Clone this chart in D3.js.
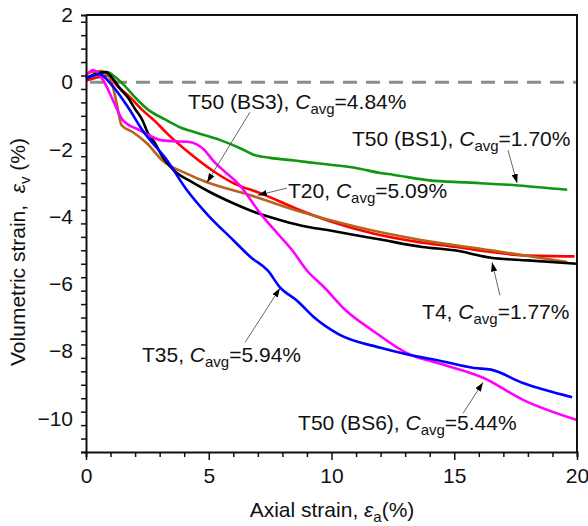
<!DOCTYPE html>
<html>
<head>
<meta charset="utf-8">
<script src="https://cdn.jsdelivr.net/npm/d3@7"></script>
<style>
  body { margin: 0; background: #fff; }
  svg text { font-family: Arial, "Liberation Sans", sans-serif; fill: #111; }
</style>
</head>
<body>
<svg id="chart" width="588" height="526"></svg>
<script>
// axial strain (%) vs volumetric strain (%)
var t50bs1 = [[0,0.12],[0.4,0.22],[0.85,0.3],[1.2,0.15],[1.5,-0.05],[2,-0.45],[2.5,-0.8],[3.2,-1.1],[3.8,-1.33],[4.5,-1.5],[5.5,-1.73],[6.3,-1.97],[6.8,-2.15],[7.5,-2.25],[8.5,-2.33],[9.5,-2.42],[11,-2.55],[12,-2.7],[12.5,-2.75],[14,-2.92],[15.5,-2.98],[17.6,-3.07],[19.6,-3.2]];
var t4 = [[0,0.12],[0.4,0.25],[0.8,0.3],[1.1,0.1],[1.4,-0.2],[1.7,-0.45],[2.0,-0.8],[2.3,-1.13],[2.5,-1.48],[2.8,-1.8],[3.1,-2.2],[3.7,-2.7],[4.2,-2.92],[5,-3.25],[6,-3.6],[7,-3.9],[8,-4.12],[9,-4.3],[10,-4.42],[11,-4.55],[12,-4.68],[13.7,-4.9],[15,-5.0],[16.5,-5.22],[18,-5.3],[20,-5.4]];
var t20 = [[0,0.05],[0.5,0.15],[0.9,0.2],[1.25,-0.09],[1.8,-0.45],[2.3,-0.83],[2.8,-1.15],[3.3,-1.52],[4.2,-2.1],[5.3,-2.7],[6,-3.0],[7.1,-3.3],[8.7,-3.8],[10,-4.15],[11.7,-4.5],[13.5,-4.75],[15.1,-4.9],[16.5,-5.05],[17.8,-5.15],[19.9,-5.18]];
var t50bs3 = [[0,0.27],[0.6,0.33],[0.9,0.2],[1.1,-0.15],[1.25,-0.63],[1.45,-1.28],[1.9,-1.48],[2.5,-1.83],[3.1,-2.32],[4.1,-2.72],[4.9,-2.97],[6.7,-3.36],[8.5,-3.8],[11,-4.3],[13.7,-4.7],[16.5,-5.0],[19.6,-5.35]];
var t35 = [[0,0.1],[0.55,0.24],[1,-0.04],[1.7,-0.73],[2.3,-1.43],[3.3,-2.32],[4.1,-3.2],[4.9,-3.9],[6,-4.7],[6.7,-5.2],[7.4,-5.6],[7.9,-6.1],[8.6,-6.5],[9.3,-7.0],[10.3,-7.5],[12,-7.9],[13.1,-8.1],[14.5,-8.3],[15.8,-8.5],[16.5,-8.55],[17.8,-8.95],[19.8,-9.37]];
var t50bs6 = [[0,0.2],[0.3,0.36],[0.7,0.06],[1.1,-0.54],[1.5,-1.13],[2.2,-1.43],[3.1,-1.73],[4.2,-1.78],[4.8,-2.0],[5.2,-2.35],[6.3,-3.1],[7.1,-3.9],[7.8,-4.5],[8.4,-5.0],[9,-5.6],[9.7,-6.1],[10.6,-6.8],[11.7,-7.4],[13.1,-8.07],[14.4,-8.37],[16.2,-8.8],[17.8,-9.45],[20,-10.05]];

var xTicks = [0, 5, 10, 15, 20];
var yTicks = [2, 0, -2, -4, -6, -8, -10];

var series = [
  {data: t50bs1, color: "#0f970f"},
  {data: t20, color: "#ff0000"},
  {data: t50bs3, color: "#b8621e"},
  {data: t4, color: "#000000"},
  {data: t50bs6, color: "#ff00ff"},
  {data: t35, color: "#0000ff"}
];

// label: name, Cavg, text anchor point and arrow (from -> to), all in data units
var notes = [
  {name: "T50 (BS3), ", c: "4.84", at: [4.15, -0.80], from: [6.68, -0.89], to: [4.93, -2.98]},
  {name: "T50 (BS1), ", c: "1.70", at: [10.83, -1.90], from: [17.19, -2.02], to: [17.56, -3.0]},
  {name: "T20, ", c: "5.09", at: [8.23, -3.45], from: [8.19, -3.15], to: [7.0, -3.36]},
  {name: "T4, ", c: "1.77", at: [13.69, -7.05], from: [16.86, -6.34], to: [16.54, -5.36]},
  {name: "T35, ", c: "5.94", at: [2.28, -8.33], from: [6.48, -7.74], to: [7.9, -6.13]},
  {name: "T50 (BS6), ", c: "5.44", at: [8.64, -10.36], from: [15.36, -9.85], to: [16.17, -8.93]}
];

var svg = d3.select("#chart");
var x = d3.scaleLinear().domain([0, 20]).range([86, 577]);
var y = d3.scaleLinear().domain([-11, 2]).range([452, 15]);

svg.append("defs").append("marker")
    .attr("id", "head")
    .attr("viewBox", "0 0 10 10")
    .attr("refX", 10).attr("refY", 5)
    .attr("markerWidth", 9).attr("markerHeight", 9)
    .attr("markerUnits", "userSpaceOnUse")
    .attr("orient", "auto")
  .append("path")
    .attr("d", "M0,1.5 L10,5 L0,8.5 Z")
    .attr("fill", "#000");

// zero line
svg.append("line")
    .attr("x1", x(0)).attr("x2", x(20))
    .attr("y1", y(0)).attr("y2", y(0))
    .attr("stroke", "#8c8c8c")
    .attr("stroke-width", 3)
    .attr("stroke-dasharray", "14,9")
    .attr("stroke-dashoffset", -4);

var line = d3.line().curve(d3.curveMonotoneX).x(d => x(d[0])).y(d => y(d[1]));
svg.selectAll(".curve").data(series).enter().append("path")
    .attr("class", "curve")
    .attr("d", d => line(d.data))
    .attr("fill", "none")
    .attr("stroke", d => d.color)
    .attr("stroke-width", 2.6)
    .attr("stroke-linejoin", "round");

// axes
var xAxis = svg.append("g").attr("transform", "translate(0," + y(-11) + ")")
    .call(d3.axisBottom(x).tickValues(d3.range(0, 21, 1)).tickSize(5).tickFormat(""));
xAxis.selectAll(".tick line").filter(d => d % 5 === 0).attr("y2", 8);
svg.append("g").attr("transform", "translate(0," + y(-11) + ")")
    .call(d3.axisBottom(x).tickValues(xTicks).tickSize(0).tickPadding(16))
    .call(g => g.select(".domain").remove());

var yAxis = svg.append("g").attr("transform", "translate(" + x(0) + ",0)")
    .call(d3.axisLeft(y).tickValues(d3.range(-55, 11, 2).map(v => v / 5)).tickSize(5).tickFormat(""));
yAxis.selectAll(".tick line").filter(d => Math.abs(d % 2) < 1e-6).attr("x2", -8);
svg.append("g").attr("transform", "translate(" + x(0) + ",0)")
    .call(d3.axisLeft(y).tickValues(yTicks).tickSize(0).tickPadding(13)
      .tickFormat(d => d < 0 ? "\u2212" + Math.abs(d) : d))
    .call(g => g.select(".domain").remove());

svg.selectAll(".tick text").attr("font-size", 21).attr("font-family", "Arial, 'Liberation Sans', sans-serif").attr("fill", "#111");
svg.selectAll(".tick line").attr("stroke", "#111").attr("stroke-width", 1.5);
svg.selectAll(".domain").attr("stroke", "#111").attr("stroke-width", 2);

// frame top/right
svg.append("path")
    .attr("d", "M" + x(0) + "," + y(2) + "H" + x(20) + "V" + y(-11))
    .attr("fill", "none").attr("stroke", "#111").attr("stroke-width", 2);

// annotations
notes.forEach(function(n) {
  svg.append("line")
      .attr("x1", x(n.from[0])).attr("y1", y(n.from[1]))
      .attr("x2", x(n.to[0])).attr("y2", y(n.to[1]))
      .attr("stroke", "#555").attr("stroke-width", 0.9)
      .attr("marker-end", "url(#head)");
  var t = svg.append("text")
      .attr("x", x(n.at[0])).attr("y", y(n.at[1]))
      .attr("font-size", 21);
  t.append("tspan").text(n.name);
  t.append("tspan").attr("font-style", "italic").text("C");
  t.append("tspan").attr("font-size", 15).attr("dy", 5).text("avg");
  t.append("tspan").attr("dy", -5).text("=" + n.c + "%");
});

// axis titles
var xt = svg.append("text")
    .attr("x", 332).attr("y", 517)
    .attr("text-anchor", "middle")
    .attr("font-size", 21);
xt.append("tspan").text("Axial strain, ");
xt.append("tspan").attr("font-style", "italic").text("\u03b5");
xt.append("tspan").attr("font-size", 15).attr("dy", 5).text("a");
xt.append("tspan").attr("dy", -5).text("(%)");

var yt = svg.append("text")
    .attr("transform", "translate(25," + 252 + ") rotate(-90)")
    .attr("text-anchor", "middle")
    .attr("font-size", 21)
    .attr("xml:space", "preserve");
yt.append("tspan").text("Volumetric strain,  ");
yt.append("tspan").attr("font-style", "italic").text("\u03b5");
yt.append("tspan").attr("font-size", 15).attr("dy", 5).text("v");
yt.append("tspan").attr("dy", -5).text(" (%)");
</script>
</body>
</html>
